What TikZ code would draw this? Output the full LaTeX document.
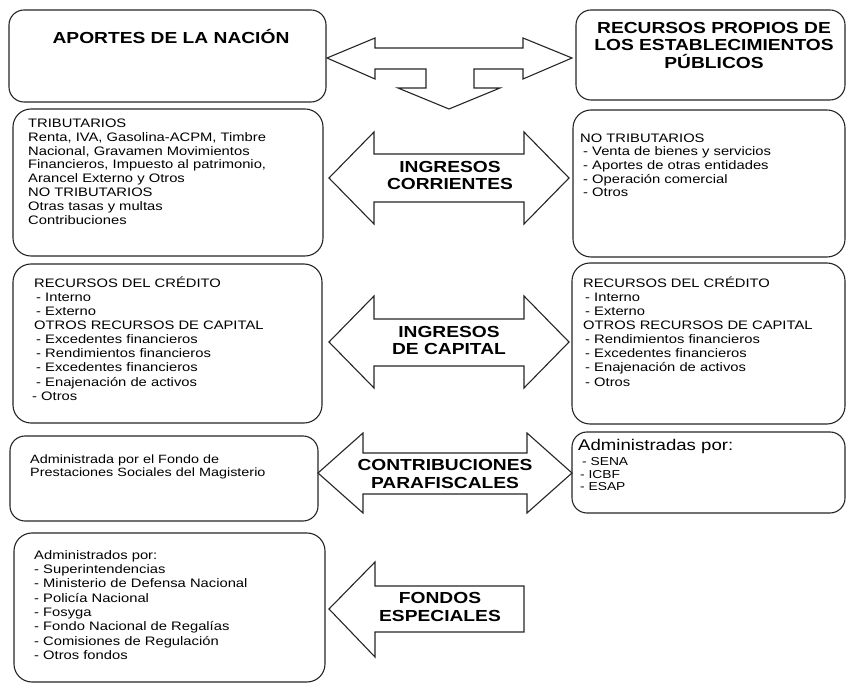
\documentclass[tikz,border=0pt]{standalone}
\usepackage{fontspec}
\setmainfont{Liberation Sans}[FakeStretch=1.2]
\newcommand\bodyfont{\fontsize{12.3}{13.9}\selectfont}
\newcommand\headfont{\fontsize{16}{17.2}\selectfont\bfseries}
\newcommand\tline[3]{\parbox[t]{#1}{\raggedright\fontsize{#2}{#3}\selectfont\ignorespaces}}
\tikzset{
  box/.style={draw=black!85, line width=1.1pt, fill=white, rounded corners=18pt, inner sep=0pt},
  smallbox/.style={box, rounded corners=15pt},
  barrow/.style={draw=black!85, line width=1.1pt, fill=white, line join=miter},
  txt/.style={inner sep=0pt, anchor=base west, text=black},
  lbl/.style={inner sep=0pt, anchor=base, text=black},
}
\begin{document}
\begin{tikzpicture}[x=1pt, y=-1pt]
\fill[white] (0,0) rectangle (847,684);
\useasboundingbox (0,0) rectangle (847,684);

% ---------- boxes ----------
\node[smallbox, minimum width=317pt, minimum height=92pt] (aportes) at (167.5,56) {};
\node[smallbox, minimum width=269pt, minimum height=90pt] (propios) at (710.5,55) {};
\node[box, minimum width=310pt, minimum height=147pt] (corrL) at (168,182.5) {};
\node[box, minimum width=272pt, minimum height=147pt] (corrR) at (709,183.5) {};
\node[box, minimum width=309pt, minimum height=159pt] (capL) at (167.5,343.5) {};
\node[box, minimum width=273pt, minimum height=161pt] (capR) at (708.5,343.5) {};
\node[smallbox, minimum width=308pt, minimum height=85pt] (paraL) at (164,478.5) {};
\node[smallbox, minimum width=273pt, minimum height=81pt] (paraR) at (708.5,472.5) {};
\node[box, minimum width=311pt, minimum height=149pt] (fondos) at (169.5,607.5) {};

% ---------- block arrows ----------
\draw[barrow] (327,58) -- (375,38) -- (375,48) -- (523,48) -- (523,38) -- (572,58)
  -- (523,79) -- (523,69) -- (474,69) -- (474,88) -- (500,88) -- (449,109)
  -- (398,88) -- (426,88) -- (426,69) -- (375,69) -- (375,79) -- cycle;
\draw[barrow] (329,178) -- (374,132) -- (374,154) -- (524,154) -- (524,132) -- (569,178)
  -- (524,224) -- (524,202) -- (374,202) -- (374,224) -- cycle;
\draw[barrow] (329,342) -- (374,296) -- (374,319) -- (524,319) -- (524,296) -- (569,342)
  -- (524,388) -- (524,366) -- (374,366) -- (374,388) -- cycle;
\draw[barrow] (318,473) -- (363,433) -- (363,453) -- (527,453) -- (527,433) -- (572,473)
  -- (527,513) -- (527,494) -- (363,494) -- (363,513) -- cycle;
\draw[barrow] (329,609) -- (375,562) -- (375,586) -- (524,586) -- (524,632)
  -- (375,632) -- (375,657) -- cycle;

% ---------- headings ----------
\node[lbl] (tAportes) at (171,43.7) {\headfont APORTES DE LA NACIÓN};
\node[lbl] (tPropios) at (714,33.7) {\parbox[t]{268pt}{\centering\headfont
  RECURSOS PROPIOS DE\\LOS ESTABLECIMIENTOS\\PÚBLICOS}};
\node[lbl] (tCorr) at (450,172.7) {\parbox[t]{200pt}{\centering\headfont
  INGRESOS\\CORRIENTES}};
\node[lbl] (tCap) at (449,337.7) {\parbox[t]{200pt}{\centering\headfont
  INGRESOS\\DE CAPITAL}};
\node[lbl] (tPara) at (445,470.7) {\parbox[t]{220pt}{\centering\fontsize{16}{18}\selectfont\bfseries
  CONTRIBUCIONES\\PARAFISCALES}};
\node[lbl] (tFondos) at (440,603.7) {\parbox[t]{200pt}{\centering\fontsize{16}{18}\selectfont\bfseries
  FONDOS\\ESPECIALES}};

% ---------- box texts ----------
\node[txt] (xCorrL) at (28,127.4) {\parbox[t]{290pt}{\raggedright\fontsize{12.3}{13.86}\selectfont
  TRIBUTARIOS\\
  Renta, IVA, Gasolina-ACPM, Timbre\\
  Nacional, Gravamen Movimientos\\
  Financieros, Impuesto al patrimonio,\\
  Arancel Externo y Otros\\
  NO TRIBUTARIOS\\
  Otras tasas y multas\\
  Contribuciones}};
\node[txt] (xCorrR) at (580,142.4) {\parbox[t]{260pt}{\raggedright\fontsize{12.3}{13.6}\selectfont
  NO TRIBUTARIOS\\
  \hspace*{3pt}- Venta de bienes y servicios\\
  \hspace*{3pt}- Aportes de otras entidades\\
  \hspace*{3pt}- Operación comercial\\
  \hspace*{3pt}- Otros}};
\node[txt] (xCapL) at (34,287.4) {\parbox[t]{285pt}{\raggedright\fontsize{12.3}{14.1}\selectfont
  RECURSOS DEL CRÉDITO\\
  \hspace*{2pt}- Interno\\
  \hspace*{2pt}- Externo\\
  OTROS RECURSOS DE CAPITAL\\
  \hspace*{2pt}- Excedentes financieros\\
  \hspace*{2pt}- Rendimientos financieros\\
  \hspace*{2pt}- Excedentes financieros\\
  \hspace*{2pt}- Enajenación de activos\\
  \hspace*{-2pt}- Otros}};
\node[txt] (xCapR) at (583,287.4) {\parbox[t]{260pt}{\raggedright\fontsize{12.3}{14.1}\selectfont
  RECURSOS DEL CRÉDITO\\
  \hspace*{2pt}- Interno\\
  \hspace*{2pt}- Externo\\
  OTROS RECURSOS DE CAPITAL\\
  \hspace*{2pt}- Rendimientos financieros\\
  \hspace*{2pt}- Excedentes financieros\\
  \hspace*{2pt}- Enajenación de activos\\
  \hspace*{2pt}- Otros}};
\node[txt] (xParaL) at (30,464) {\parbox[t]{285pt}{\raggedright\fontsize{12}{13}\selectfont
  Administrada por el Fondo de\\
  Prestaciones Sociales del Magisterio}};
\node[txt] (xParaRh) at (578,450.5) {\fontsize{15.5}{17}\selectfont Administradas por:};
\node[txt] (xParaR) at (580,466) {\parbox[t]{260pt}{\raggedright\fontsize{11.5}{12.5}\selectfont
  \hspace*{2pt}- SENA\\
  - ICBF\\
  - ESAP}};
\node[txt] (xFondos) at (34,559.4) {\parbox[t]{285pt}{\raggedright\fontsize{12.3}{14.3}\selectfont
  Administrados por:\\
  - Superintendencias\\
  - Ministerio de Defensa Nacional\\
  - Policía Nacional\\
  - Fosyga\\
  - Fondo Nacional de Regalías\\
  - Comisiones de Regulación\\
  - Otros fondos}};
\end{tikzpicture}
\end{document}
